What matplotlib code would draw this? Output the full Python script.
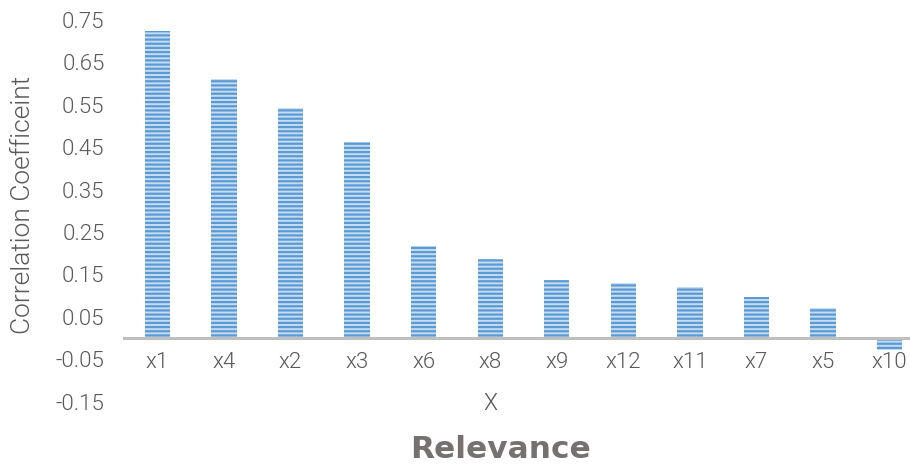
import matplotlib
matplotlib.use("Agg")
import matplotlib.pyplot as plt

categories = ["x1", "x4", "x2", "x3", "x6", "x8", "x9", "x12", "x11", "x7", "x5", "x10"]
values = [0.724, 0.611, 0.542, 0.462, 0.217, 0.186, 0.137, 0.130, 0.120, 0.097, 0.071, -0.028]
yticks = [-0.15, -0.05, 0.05, 0.15, 0.25, 0.35, 0.45, 0.55, 0.65, 0.75]

plt.rcParams['font.family'] = ['Roboto', 'DejaVu Sans']
plt.rcParams['font.weight'] = 300
plt.rcParams['axes.labelweight'] = 300
plt.rcParams['hatch.linewidth'] = 1.6
text_color = '#595959'

fig = plt.figure(figsize=(9.10, 4.66), dpi=100)
ax = fig.add_axes([124/910, 64.4/466, 799/910, 394.3/466])

x = list(range(len(categories)))
ax.bar(x, values, width=0.38, color='#c6dcf1', edgecolor='#5b9bd5',
       linewidth=0, hatch='----', zorder=2)

ax.set_xlim(-0.5, len(categories) - 0.5)
ax.set_ylim(-0.15, 0.78)
ax.set_yticks(yticks)
ax.set_yticklabels([f"{v:.2f}" for v in yticks])
ax.set_xticks(x)
ax.set_xticklabels(categories)

for s in ['top', 'right', 'left']:
    ax.spines[s].set_visible(False)
ax.spines['bottom'].set_position(('data', 0))
ax.spines['bottom'].set_color('#bfbfbf')
ax.spines['bottom'].set_linewidth(2.2)
ax.spines['bottom'].set_zorder(3)

ax.tick_params(axis='both', length=0, labelsize=16, colors=text_color)
ax.tick_params(axis='x', pad=10)
ax.tick_params(axis='y', pad=14)

ax.set_ylabel("Correlation Coefficeint", fontsize=19, color=text_color, fontweight=300)
ax.yaxis.label.set_va('center')
ax.yaxis.set_label_coords((23 - 124) / 799, 0.5)

fig.text(490/910, 1 - 404/466, "X", fontsize=16.5, fontweight=300, color=text_color,
         ha='center', va='center')
fig.text(500/910, 1 - 449/466, "Relevance", fontsize=22.5, fontweight='bold',
         family='DejaVu Sans', color='#767171', ha='center', va='center')

fig.savefig("out.png", dpi=100)
